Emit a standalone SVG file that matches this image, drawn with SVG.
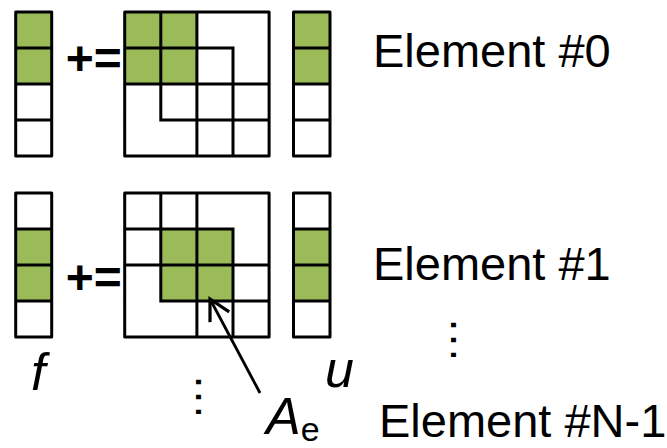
<svg xmlns="http://www.w3.org/2000/svg" width="667" height="448" viewBox="0 0 667 448">
  <style>
    .cell { fill: #ffffff; }
    .on { fill: #9bbb59; }
    .grid { fill: none; stroke: #000000; stroke-width: 3; stroke-linejoin: round; stroke-linecap: square; }
    .lbl { font-family: "Liberation Sans", Arial, sans-serif; fill: #000000; }
    .big { font-size: 47px; }
    .op { font-size: 48px; font-weight: bold; }
    .sym { font-size: 52px; font-style: italic; }
    .ptr { fill: none; stroke: #000000; stroke-width: 2.8; }
  </style>
  <defs>
    <!-- 4x4 element matrix skeleton (nested L blocks) -->
    <path id="matLines" class="grid"
          d="M0,0 H144.4 V144 H0 Z
             M36.1,0 V108
             M72.2,0 V144
             M108.3,36 V144
             M0,36 H108.3
             M0,72 H144.4
             M36.1,108 H144.4"/>
    <!-- 4-entry column vector -->
    <path id="vecLines" class="grid" d="M0,0 H36 V144 H0 Z M0,36 H36 M0,72 H36 M0,108 H36"/>
    <path id="vecLinesR" class="grid" d="M0,0 H36.5 V144 H0 Z M0,36 H36.5 M0,72 H36.5 M0,108 H36.5"/>
    <marker id="openHead" markerUnits="userSpaceOnUse" markerWidth="30" markerHeight="30"
            viewBox="-22 -12 26 24" refX="0" refY="0" orient="auto">
      <path d="M-17.7,-9.4 L0,0 L-17.7,9.4" fill="none" stroke="#000000" stroke-width="2.8" stroke-linejoin="miter"/>
    </marker>
  </defs>

  <!-- Element #0 -->
  <g id="f0">
    <rect x="15.7" y="12" width="36" height="144" class="cell"/>
    <rect x="15.7" y="12" width="36" height="72" class="on"/>
    <use href="#vecLines" x="15.7" y="12"/>
  </g>
  <text id="op0" class="lbl op" x="65.8" y="75">+=</text>
  <g id="A0">
    <rect x="124.7" y="12" width="144.4" height="144" class="cell"/>
    <rect x="124.7" y="12" width="72.2" height="72" class="on"/>
    <use href="#matLines" x="124.7" y="12"/>
  </g>
  <g id="u0">
    <rect x="293.5" y="12" width="36.5" height="144" class="cell"/>
    <rect x="293.5" y="12" width="36.5" height="72" class="on"/>
    <use href="#vecLinesR" x="293.5" y="12"/>
  </g>
  <text id="lbl0" class="lbl big" x="373" y="66.7">Element #0</text>

  <!-- Element #1 -->
  <g id="f1">
    <rect x="15.7" y="193" width="36" height="144" class="cell"/>
    <rect x="15.7" y="229" width="36" height="72" class="on"/>
    <use href="#vecLines" x="15.7" y="193"/>
  </g>
  <text id="op1" class="lbl op" x="65.8" y="294">+=</text>
  <g id="A1">
    <rect x="124.7" y="193" width="144.4" height="144" class="cell"/>
    <rect x="160.8" y="229" width="72.2" height="72" class="on"/>
    <use href="#matLines" x="124.7" y="193"/>
  </g>
  <g id="u1">
    <rect x="293.5" y="193" width="36.5" height="144" class="cell"/>
    <rect x="293.5" y="229" width="36.5" height="72" class="on"/>
    <use href="#vecLinesR" x="293.5" y="193"/>
  </g>
  <text id="lbl1" class="lbl big" x="373" y="280">Element #1</text>

  <!-- vertical ellipses -->
  <text class="lbl big" text-anchor="middle" transform="translate(451,340) rotate(90)">…</text>
  <text class="lbl big" text-anchor="middle" transform="translate(196,397) rotate(90)">…</text>

  <!-- symbols -->
  <text id="symF" class="lbl sym" x="31" y="390">f</text>
  <text id="symU" class="lbl sym" x="325" y="387">u</text>
  <text id="symA" class="lbl sym" x="266" y="434">A<tspan font-style="normal" font-size="34" dy="7">e</tspan></text>

  <text id="lblN" class="lbl big" x="379" y="437">Element #N-1</text>

  <!-- pointer from A_e to the element block -->
  <g id="connectors">
    <line class="ptr" x1="260" y1="393" x2="210" y2="299" marker-end="url(#openHead)"/>
  </g>
</svg>
